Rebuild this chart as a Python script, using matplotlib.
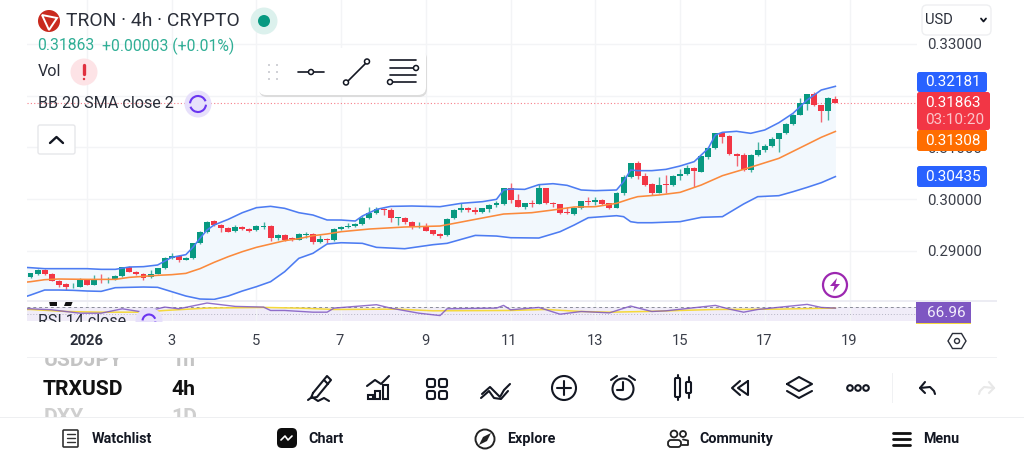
import matplotlib
matplotlib.use('Agg')
import matplotlib.pyplot as plt
from matplotlib.patches import Circle, FancyBboxPatch, Rectangle, Polygon, Arc

plt.rcParams['font.family'] = ['Roboto', 'DejaVu Sans']

# candles, 4h bars, index 0 = 1 Jan 2026 00:00
opens = [.28493,.28551,.28628,.28551,.28422,.28351,.28312,.28306,.28435,.28344,.28460,.28441,.28447,.28505,.28680,.28596,.28557,.28486,.28557,.28660,.28860,.28899,.28828,.28854,.29144,.29363,.29570,.29499,.29434,.29376,.29467,.29428,.29396,.29467,.29479,.29241,.29299,.29247,.29215,.29305,.29325,.29170,.29228,.29202,.29421,
         .29460,.29472,.29511,.29627,.29737,.29814,.29789,.29634,.29640,.29563,.29466,.29479,.29395,.29324,.29298,.29627,.29795,.29834,.29789,.29743,.29814,.29885,.29905,.30208,.29982,.29853,.29931,.29911,.30208,.29931,.29898,.29743,.29711,.29827,.29963,.29943,.29982,.29918,.29834,.30111,
         .30421,.30692,.30453,.30298,.30124,.30292,.30272,.30453,.30485,.30601,.30530,.30814,.30988,.31272,.31220,.30879,.30846,.30569,.30853,.30943,.31027,.31169,.31272,.31453,.31633,.31840,.32027,.31814,.31711,.31943]
highs = [.28576,.28654,.28654,.28563,.28435,.28370,.28383,.28467,.28448,.28531,.28544,.28486,.28525,.28693,.28705,.28609,.28570,.28628,.28673,.28880,.28950,.28912,.28880,.29157,.29376,.29576,.29589,.29512,.29460,.29492,.29486,.29447,.29499,.29563,.29499,.29318,.29318,.29273,.29338,.29363,.29338,.29305,.29254,.29441,.29480,
         .29530,.29543,.29679,.29853,.29853,.29834,.29827,.29653,.29653,.29576,.29556,.29530,.29408,.29337,.29634,.29808,.29930,.29847,.29853,.29834,.29905,.29969,.30221,.30305,.30092,.29931,.29982,.30292,.30221,.29950,.29911,.29840,.29847,.29969,.30034,.30047,.29995,.29931,.30137,.30459,
         .30704,.30743,.30498,.30317,.30433,.30466,.30466,.30575,.30659,.30614,.30840,.31008,.31285,.31285,.31233,.30891,.30898,.30866,.31111,.31066,.31207,.31285,.31466,.31646,.31949,.32040,.32078,.31827,.31969,.31994]
lows = [.28480,.28538,.28531,.28409,.28293,.28241,.28280,.28293,.28331,.28331,.28370,.28383,.28435,.28486,.28583,.28538,.28428,.28467,.28544,.28647,.28847,.28783,.28815,.28841,.29131,.29350,.29486,.29363,.29357,.29363,.29408,.29357,.29376,.29421,.29189,.29208,.29196,.29196,.29202,.29241,.29125,.29157,.29151,.29189,.29400,
        .29434,.29453,.29492,.29614,.29711,.29692,.29563,.29498,.29518,.29427,.29447,.29376,.29305,.29253,.29285,.29614,.29743,.29756,.29711,.29730,.29756,.29853,.29892,.29918,.29840,.29808,.29853,.29898,.29905,.29853,.29711,.29705,.29698,.29814,.29885,.29879,.29885,.29814,.29821,.30085,
        .30408,.30395,.30253,.30085,.30111,.30111,.30259,.30369,.30472,.30240,.30517,.30769,.30975,.31079,.30846,.30640,.30550,.30530,.30833,.30917,.31001,.30917,.31259,.31440,.31620,.31724,.31801,.31498,.31530,.31853]
closes = [.28563,.28628,.28544,.28422,.28338,.28306,.28325,.28435,.28344,.28460,.28428,.28454,.28512,.28680,.28596,.28551,.28473,.28557,.28660,.28867,.28899,.28822,.28867,.29144,.29363,.29563,.29499,.29434,.29370,.29467,.29428,.29389,.29479,.29486,.29241,.29299,.29208,.29228,.29325,.29325,.29170,.29221,.29202,.29428,.29467,
          .29479,.29518,.29640,.29737,.29808,.29789,.29627,.29647,.29550,.29453,.29479,.29389,.29331,.29285,.29621,.29795,.29821,.29789,.29756,.29821,.29892,.29924,.30208,.29982,.29853,.29918,.29911,.30208,.29918,.29898,.29737,.29724,.29834,.29956,.29943,.29982,.29911,.29827,.30124,.30434,
          .30692,.30446,.30279,.30111,.30279,.30279,.30453,.30492,.30601,.30537,.30827,.30995,.31272,.31208,.30872,.30840,.30562,.30853,.30950,.31033,.31169,.31272,.31453,.31633,.31853,.32027,.31814,.31711,.31956,.31863]
first_bar = -8

# bollinger bands, read at sampled bars
upper_x = [-9,-8,-6,-4,-2,0,2,4,6,8,10,12,14,15,16,17,18,20,22,24,26,28,30,32,34,36,38,39,41,43,46,50,53,56,58,59,60,62,64,66,68,70,72,75,76,77,78,80,82,84,86,88,89,90,92,94,96,98,100,102,104,106]
upper_y = [.28680,.28673,.28654,.28654,.28654,.28654,.28641,.28641,.28686,.28693,.28725,.28873,.28925,.29067,.29241,.29402,.29499,.29608,.29737,.29834,.29860,.29821,.29737,.29692,.29596,.29595,.29576,.29672,.29801,.29859,.29866,.29853,.29918,.29950,.29995,.30176,.30195,.30188,.30279,.30298,.30266,.30176,.30163,.30176,.30337,.30563,.30550,.30550,.30575,.30640,.30724,.30982,.31240,.31291,.31311,.31272,.31337,.31478,.31659,.31917,.32110,.32181]
mid_x = [-9,-8,-6,-4,0,4,6,8,10,12,14,15,16,18,20,22,24,26,28,30,32,34,36,40,45,50,52,55,59,63,66,69,72,75,77,78,81,84,87,90,93,95,98,102,104,106]
mid_y = [.28389,.28402,.28441,.28454,.28447,.28447,.28486,.28505,.28525,.28538,.28563,.28609,.28654,.28776,.28886,.28983,.29067,.29131,.29196,.29234,.29292,.29325,.29369,.29421,.29460,.29479,.29530,.29608,.29711,.29737,.29789,.29847,.29853,.29918,.30008,.30047,.30079,.30130,.30272,.30453,.30575,.30659,.30788,.31059,.31195,.31308]
lower_x = [-9,-8,-6,-4,-2,0,2,4,6,8,10,12,14,16,18,20,22,24,26,28,30,32,34,36,39,41,45,49,51,55,58,60,64,67,69,71,75,76,77,78,80,84,87,90,93,95,98,100,102,104,106]
lower_y = [.28099,.28144,.28241,.28241,.28235,.28222,.28215,.28286,.28293,.28299,.28293,.28209,.28125,.28067,.28060,.28125,.28222,.28306,.28402,.28596,.28854,.28951,.29131,.29156,.29144,.29066,.29040,.29118,.29144,.29298,.29285,.29253,.29247,.29369,.29498,.29640,.29679,.29660,.29563,.29543,.29543,.29563,.29647,.29660,.29905,.30047,.30066,.30143,.30227,.30317,.30435]

# rsi pane
rsi_x = [-9,-8,-5,-3,-1,2,5,8,11,13,17,21,25,26,28,32,34,35,41,43,47,50,51,58,59,60,64,67,70,74,77,80,82,89,91,93,95,102,104,106]
rsi_y = [65,65,62,57,52,52,65,55,70,65,82,72,70,60,60,55,55,67,77,67,52,45,65,67,75,62,69,49,57,53,73,57,59,75,64,55,63,78,69,66.96]
rsi_ma_x = [-9,-8,-3,2,8,11,17,25,30,35,44,49,60,65,70,74,79,89,98,106]
rsi_ma_y = [63,63,57,55,55,60,67,69,67,63,64,59,60,63,57,55,57,63,64,67]

date_ticks = [0, 12, 24, 36, 48, 60, 72, 84, 96, 108]
date_labels = ['2026', '3', '5', '7', '9', '11', '13', '15', '17', '19']
price_ticks = [.29, .30, .31, .32, .33]
price_labels = ['0.29000', '0.30000', '0.31000', '', '0.33000']

GREEN = '#089981'
RED = '#f23645'
BLUE = '#4d7cf2'
ORANGE = '#fb8a3c'
PURPLE = '#7e57c2'
INK = '#131722'
W, H = 1024, 461


def box(x0, y0, x1, y1):
    # pixel box (y from top) to figure fractions
    return [x0 / W, 1 - y1 / H, (x1 - x0) / W, (y1 - y0) / H]


fig = plt.figure(figsize=(10.24, 4.61), dpi=100, facecolor='white')

ax = fig.add_axes(box(27, 0, 917, 300))
ax.set_xlim(-8.5, 117.56)
ax.set_ylim(.28048, .33851)
for s in ax.spines.values():
    s.set_visible(False)
ax.set_xticks(date_ticks)
ax.set_xticklabels([])
ax.yaxis.tick_right()
ax.set_yticks(price_ticks)
ax.set_yticklabels(price_labels, fontsize=10.8, color='#3a3e49')
ax.tick_params(length=0, axis='both')
ax.tick_params(axis='y', pad=7)
ax.grid(True, color='#f3f4f6', linewidth=1)
ax.set_axisbelow(True)

# the band fill is only defined on a shared x, so build it on the upper samples
lower_on_upper = []
for x in upper_x:
    for k in range(len(lower_x) - 1):
        if lower_x[k] <= x <= lower_x[k + 1]:
            t = (x - lower_x[k]) / (lower_x[k + 1] - lower_x[k])
            lower_on_upper.append(lower_y[k] + t * (lower_y[k + 1] - lower_y[k]))
            break
ax.fill_between(upper_x, lower_on_upper, upper_y, color='#f2f8fd', linewidth=0, zorder=1)
ax.axhline(closes[-1], color='#f77c88', linewidth=0.8, linestyle=(0, (1, 2)), zorder=1.5)

for i in range(len(opens)):
    x = first_bar + i
    col = GREEN if closes[i] >= opens[i] else RED
    ax.vlines(x, lows[i], highs[i], color=col, linewidth=1, zorder=3, alpha=.75)
    h = max(abs(closes[i] - opens[i]), .00012)
    ax.bar(x, h, bottom=min(opens[i], closes[i]), width=.84, color=col, linewidth=0, zorder=4)

ax.plot(upper_x, upper_y, color=BLUE, linewidth=1.15, zorder=5)
ax.plot(lower_x, lower_y, color=BLUE, linewidth=1.15, zorder=5)
ax.plot(mid_x, mid_y, color=ORANGE, linewidth=1.15, zorder=5)

rsi = fig.add_axes(box(27, 302, 917, 321))
rsi.set_xlim(-8.5, 117.56)
rsi.set_ylim(29, 85)
for s in rsi.spines.values():
    s.set_visible(False)
rsi.set_xticks(date_ticks)
rsi.set_yticks([])
rsi.set_xticklabels([])
rsi.tick_params(length=0)
rsi.grid(True, axis='x', color='#f3f4f6', linewidth=1)
rsi.axhspan(30, 70, color='#f0ecf8', linewidth=0)
rsi.axhline(70, color='#8a8d99', linewidth=.7, linestyle=(0, (3, 3)))
rsi.axhline(50, color='#b5b5c4', linewidth=.7, linestyle=(0, (1, 2)))
rsi.axhline(30, color='#8a8d99', linewidth=.7, linestyle=(0, (3, 3)))
rsi.plot(rsi_ma_x, rsi_ma_y, color='#f5d93b', linewidth=1.1)
rsi.plot(rsi_x, rsi_y, color=PURPLE, linewidth=1, alpha=.85)

# interface layer in pixel coordinates
ui = fig.add_axes([0, 0, 1, 1], zorder=10)
ui.set_xlim(0, W)
ui.set_ylim(H, 0)
ui.axis('off')
ui.patch.set_alpha(0)


def line(xs, ys, color=INK, lw=1.4, z=12):
    ui.plot(xs, ys, color=color, linewidth=lw, solid_capstyle='round', solid_joinstyle='round', zorder=z)


def ring(x, y, r, color=INK, lw=1.4, face='none', z=12):
    ui.add_patch(Circle((x, y), r, facecolor=face, edgecolor=color, linewidth=lw, zorder=z))


def rbox(x0, y0, x1, y1, face, edge='none', rad=2, lw=1, z=11):
    ui.add_patch(FancyBboxPatch((x0 + rad, y0 + rad), x1 - x0 - 2 * rad, y1 - y0 - 2 * rad,
                                boxstyle='round,pad=%f,rounding_size=%f' % (rad, rad),
                                facecolor=face, edgecolor=edge, linewidth=lw, zorder=z))


def label(x, y, s, size=10.6, color=INK, weight='normal', ha='left', z=13):
    ui.text(x, y, s, fontsize=size, color=color, fontweight=weight, ha=ha, va='center', zorder=z)


# fragments of the clipped volume legend
ui.add_patch(Polygon([(49, 301), (57, 301), (57, 306), (50, 306)], facecolor='#111', zorder=7))
ui.add_patch(Polygon([(66, 301), (73, 301), (71, 306), (64, 306)], facecolor='#111', zorder=7))
ui.add_patch(Rectangle((27, 299.5), 970, 2, facecolor='#ececf3', zorder=8))

# header
ring(49, 21, 11, color='#c92a1e', face='#c92a1e', lw=0)
ui.add_patch(Polygon([(42, 15), (57, 18), (49, 30)], facecolor='none', edgecolor='white', linewidth=1.4, zorder=13))
label(66, 21, 'TRON · 4h · CRYPTO', size=13.9, color='#2a2e39')
ring(264, 21, 13.5, color='none', face='#dcf1ed', lw=0)
ring(264, 21, 6, color='none', face=GREEN, lw=0, z=13)
label(37.5, 46, '0.31863', size=11.3, color='#2fae95')
label(102, 46, '+0.00003 (+0.01%)', size=11.3, color='#2fae95')
label(38, 72, 'Vol', size=11.6, color='#2a2e39')
ring(84, 72, 13.5, color='none', face='#fde3e6', lw=0)
line([84, 84], [65.5, 74], color='#e0313f', lw=2.4, z=13)
ring(84, 79, 1.2, color='none', face='#e0313f', lw=0, z=13)
label(38, 103, 'BB 20 SMA close 2', size=11.6, color='#2a2e39')


def reload_icon(x, y, r):
    ring(x, y, 13.5, color='none', face='#e7e0fb', lw=0, z=7.5)
    ui.add_patch(Arc((x, y), 2 * r, 2 * r, theta1=185, theta2=340, color='#6a35f0', linewidth=1.5, zorder=7.6))
    ui.add_patch(Arc((x, y), 2 * r, 2 * r, theta1=5, theta2=160, color='#6a35f0', linewidth=1.5, zorder=7.6))


reload_icon(198, 104, 8)
rbox(38, 125, 75, 154, 'white', edge='#e6e7ea')
line([50, 56.5, 63], [143, 137, 143], lw=1.7)

# drawing toolbar
rbox(259, 51, 427, 97, '#dcdcdc', rad=8, z=10.5)
rbox(258, 48, 426, 95, 'white', rad=8, z=11)
for dx in (269, 277):
    for dy in (65, 72, 79):
        ring(dx, dy, 1, color='none', face='#c5c7cd', lw=0)
line([298, 324], [72, 72], lw=1.2)
ring(311, 72, 2.5, face='white', lw=1.1, z=13)
line([347, 367], [82, 62], lw=1.2)
ring(346, 82.5, 2.5, face='white', lw=1.1, z=13)
ring(367, 61.5, 2.5, face='white', lw=1.1, z=13)
line([390, 416], [60, 60], lw=1.2)
line([390, 413], [68, 68], lw=1.2)
line([390, 416], [75, 75], lw=1.2)
line([393, 416], [82, 82], lw=1.2)
ring(416, 68, 2.5, face='white', lw=1.1, z=13)
ring(390, 82, 2.5, face='white', lw=1.1, z=13)

# currency box
rbox(922, 5, 991, 35, 'white', edge='#eeeff1', rad=5)
label(925, 20, 'USD', size=10.6, color='#2a2e39')
line([981, 983.5, 986], [18.5, 21.5, 18.5], lw=1.3)

# price scale labels
for y0, y1, col, x1, txt in [(72, 92, '#2962ff', 987, '0.32181'),
                             (130, 151, '#ff6d00', 987, '0.31308'),
                             (166, 187, '#2962ff', 987, '0.30435')]:
    rbox(917, y0, x1, y1, col, rad=2.5)
    label(981, (y0 + y1) / 2, txt, size=11, color='white', ha='right')
rbox(917, 92, 990, 130, RED, rad=2.5, z=11.5)
label(981, 103, '0.31863', size=11, color='white', ha='right')
label(984, 120, '03:10:20', size=11, color='#fbc5ca', ha='right')

# rsi legend and value, clipped by the date strip
label(38, 321, 'RSI 14 close', size=11.6, color='#2a2e39', z=7)
reload_icon(149, 321, 6.5)
ui.add_patch(Rectangle((0, 321.5), W, 36, facecolor='white', zorder=8))
ui.add_patch(Rectangle((916, 302), 55, 21, facecolor=PURPLE, zorder=9))
ui.add_patch(Rectangle((916, 322.5), 55, 1, facecolor='#f5d93b', zorder=9))
label(946, 313, '66.96', size=11, color='#f2eefb', ha='center')

# bolt marker
ring(835, 285, 12, color='#9c27b0', lw=1.6, face='white', z=9)
ui.add_patch(Polygon([(837, 278), (830, 286), (834.5, 286), (833, 292), (840, 284), (835.5, 284)],
                     facecolor='#9c27b0', zorder=9.5))

# dates
date_pixel = [87, 171, 256, 340, 425, 509, 595, 680, 764, 849]
for x, s in zip(date_pixel, date_labels):
    label(x, 341, s, size=10.6, color='#3a3e49' if s != '2026' else '#2a2e39', ha='center',
          weight='bold' if s == '2026' else 'normal')
ui.add_patch(Polygon([(948, 341), (952.5, 333.5), (961.5, 333.5), (966, 341), (961.5, 348.5), (952.5, 348.5)],
                     facecolor='none', edgecolor='#2a2e39', linewidth=1, zorder=12))
ring(957, 341, 2.5, color='#2a2e39', lw=1)

# symbol picker, cut off by the date strip and the bottom bar
label(44, 360, 'USDJPY', size=15.2, color='#c4c4c4', weight='bold', z=7)
label(171, 360, '1h', size=15.2, color='#c4c4c4', weight='bold', z=7)
label(43, 389, 'TRXUSD', size=15.2, color='#111', weight='bold', z=7)
label(171, 389, '4h', size=15.2, color='#111', weight='bold', z=7)
label(44, 417, 'DXY', size=15.2, color='#cfcfcf', weight='bold', z=7)
label(171, 417, '1D', size=15.2, color='#cfcfcf', weight='bold', z=7)
ui.add_patch(Rectangle((0, 345), W, 12, facecolor='white', zorder=7.2))
ui.add_patch(Rectangle((27, 357), 970, 1.2, facecolor='#f0f1f3', zorder=9))
ui.add_patch(Rectangle((0, 417), W, 44, facecolor='white', zorder=8))
ui.add_patch(Rectangle((0, 417), W, 1.3, facecolor='#eeeff1', zorder=9))

# toolbar icons
LW = 1.5
line([313, 327, 331, 317, 311, 313], [393, 376, 380, 397, 398, 393], lw=LW)
line([324, 328], [380, 384], lw=LW)
line([308, 312, 318, 324, 329], [400, 397, 401, 398, 401], lw=LW)

line([367, 375, 381, 389], [386, 380, 384, 376], lw=LW)
for x0, top in ((368, 395), (375, 391), (383, 385)):
    ui.add_patch(Rectangle((x0, top), 5, 399 - top, facecolor='none', edgecolor=INK, linewidth=LW, zorder=12))

for gx in (427, 439):
    for gy in (379, 391):
        rbox(gx, gy, gx + 8, gy + 8, 'none', edge=INK, rad=2, lw=LW, z=12)

line([482, 490, 495, 500, 504, 510], [394, 387, 392, 397, 390, 384], lw=LW)
line([481, 489, 494, 501, 508], [398, 391, 398, 399, 391], lw=LW)

ring(564, 388, 12, lw=LW)
line([557, 571], [388, 388], lw=LW)
line([564, 564], [381, 395], lw=LW)

ring(623, 389, 10.5, lw=LW)
line([623, 623, 617], [382, 390, 390], lw=LW)
line([611, 617], [380, 376], lw=LW)
line([629, 635], [376, 380], lw=LW)

rbox(675, 378, 680, 397, 'none', edge=INK, rad=1, lw=LW, z=12)
line([677.5, 677.5], [375, 378], lw=LW)
line([677.5, 677.5], [397, 400], lw=LW)
rbox(686, 382, 691, 393, 'none', edge=INK, rad=1, lw=LW, z=12)
line([688.5, 688.5], [377, 382], lw=LW)
line([688.5, 688.5], [393, 398], lw=LW)

line([740, 732, 740], [381, 388, 395], lw=LW)
line([748, 748, 738, 748], [381, 395, 388, 381], lw=LW)

line([787, 799, 812, 799, 787], [384, 377, 384, 391, 384], lw=LW)
line([787, 799, 812], [391, 398, 391], lw=LW)

for dx in (850, 858, 866):
    ring(dx, 388, 2.8, lw=LW)

ui.add_patch(Rectangle((892, 373), 1, 30, facecolor='#f0f1f3', zorder=12))
line([925, 920, 925], [382, 388, 393], lw=LW)
line([920, 930, 934, 935], [388, 387, 391, 394], lw=LW)
line([989, 994, 989], [382, 388, 393], color='#e8e8e8', lw=LW)
line([994, 984, 980, 979], [388, 387, 391, 394], color='#e8e8e8', lw=LW)

# bottom navigation
rbox(63, 430, 78, 447, 'none', edge='#333', rad=1, lw=1.2, z=12)
for y in (434, 438, 442):
    line([66.5, 74.5], [y, y], color='#333', lw=1)
label(92, 439, 'Watchlist', size=10.4, color='#131722', weight='bold')
rbox(277, 428, 297, 448, '#0d0d0d', rad=5, z=12)
line([281, 285, 288, 292], [440, 436, 440, 436], color='white', lw=1.2, z=13)
label(308, 439, 'Chart', size=10.4, color='#131722', weight='bold')
ring(485, 439, 9.5, color='#222', lw=1.4)
ui.add_patch(Polygon([(491, 433), (487, 441), (479, 445), (483, 437)], facecolor='#222', zorder=13))
label(507, 439, 'Explore', size=10.4, color='#131722', weight='bold')
ring(674, 434, 3.4, color='#222', lw=1.3)
ring(683, 434, 3, color='#222', lw=1.3)
rbox(668, 440, 681, 447, 'none', edge='#222', rad=3, lw=1.3, z=12)
line([683, 688, 688, 682], [439.5, 440.5, 445, 445], color='#222', lw=1.3)
label(699, 439, 'Community', size=10.3, color='#131722', weight='bold')
for y in (433, 439, 445):
    line([893, 910], [y, y], color='#111', lw=2)
label(923, 439, 'Menu', size=10.3, color='#131722', weight='bold')

fig.savefig('out.png', dpi=100)
